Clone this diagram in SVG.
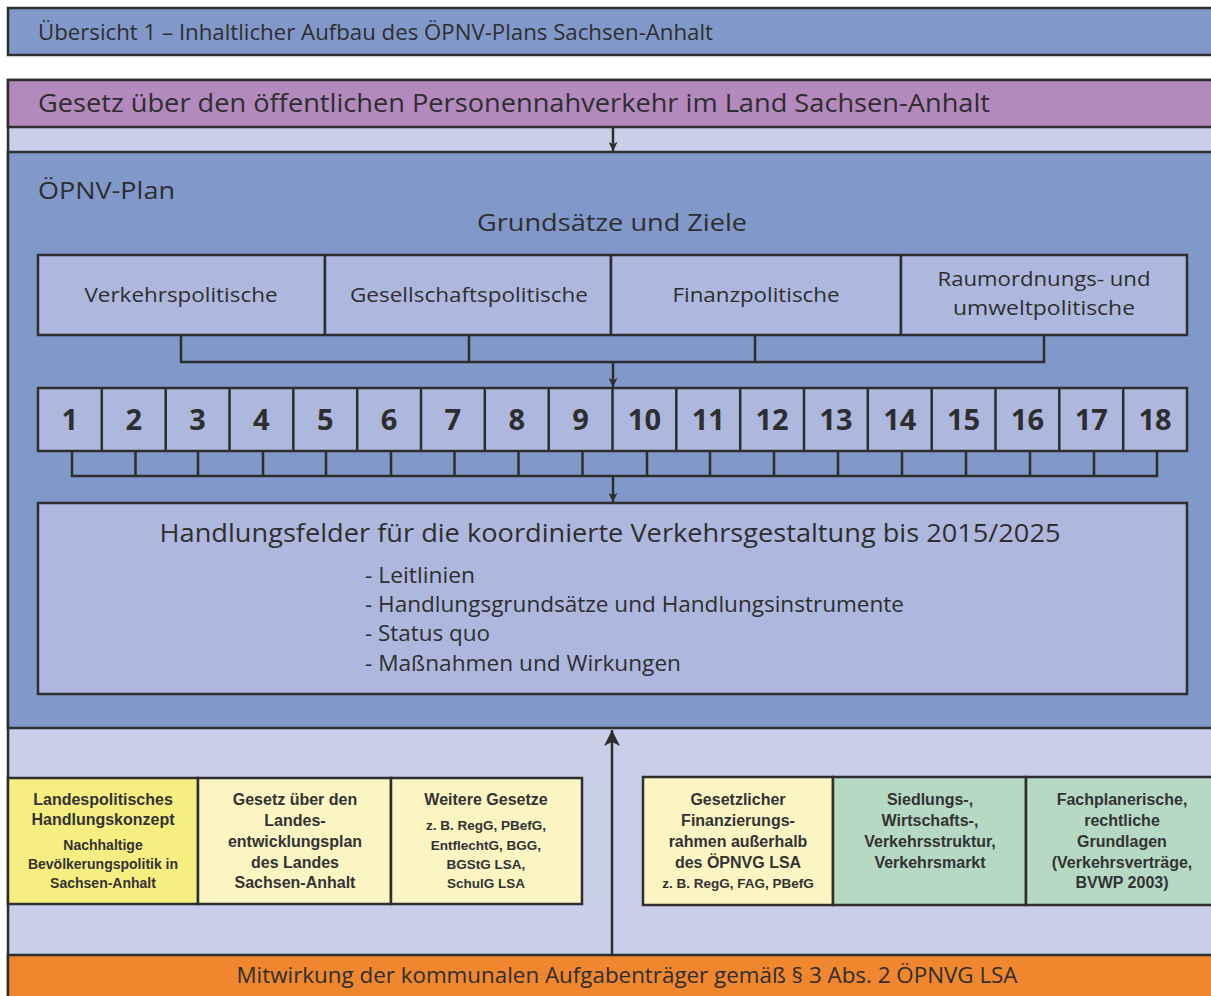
<svg xmlns="http://www.w3.org/2000/svg" width="1211" height="996" viewBox="0 0 1211 996">
<defs>
<style>
.t{font-family:"Open Sans","Noto Sans","Liberation Sans",sans-serif;fill:#2e2e2e}
.b{font-family:"Liberation Sans","Arial",sans-serif;fill:#333333;font-weight:700;text-anchor:middle}
.box{stroke:#2e2e2e;stroke-width:2.5}
.ln{stroke:#2e2e2e;stroke-width:2.5;fill:none}
.blue{fill:#8199ca}
.lb{fill:#aeb8df}
.pale{fill:#c9cee9}
.num{font-size:29px;font-weight:700;text-anchor:middle}
.g{font-size:20px;text-anchor:middle}
.s{font-size:16px}
.xs{font-size:14px}
.xxs{font-size:13.5px}
</style>
<marker id="ah" viewBox="0 0 10 10" refX="10" refY="5" markerWidth="11" markerHeight="9" markerUnits="userSpaceOnUse" orient="auto">
<path d="M0,0 L10,5 L0,10 L2.5,5 Z" fill="#2e2e2e"/>
</marker>
<marker id="ahb" viewBox="0 0 10 10" refX="10" refY="5" markerWidth="26" markerHeight="16" markerUnits="userSpaceOnUse" orient="auto">
<path d="M0,0 L10,5 L0,10 L2.5,5 Z" fill="#2e2e2e"/>
</marker>
</defs>

<g id="header">
<rect x="8" y="8" width="1220" height="47" class="box blue"/>
<text class="t" x="38" y="40" font-size="21" textLength="675" lengthAdjust="spacingAndGlyphs">Übersicht 1 – Inhaltlicher Aufbau des ÖPNV-Plans Sachsen-Anhalt</text>
</g>

<g id="frame">
<rect x="8" y="80" width="1220" height="940" class="box pale"/>
<rect x="8" y="80" width="1220" height="47" class="box" fill="#b389be"/>
<rect x="8" y="152" width="1220" height="576" class="box blue"/>
<rect x="8" y="955" width="1220" height="60" class="box" fill="#f0872e"/>
</g>

<g id="gesetz">
<text class="t" x="38" y="112" font-size="26" textLength="952" lengthAdjust="spacingAndGlyphs">Gesetz über den öffentlichen Personennahverkehr im Land Sachsen-Anhalt</text>
</g>

<g id="oepnv-plan">
<text class="t" x="38" y="199" font-size="24" textLength="137" lengthAdjust="spacingAndGlyphs">ÖPNV-Plan</text>
<text class="t" x="612" y="231" font-size="24" text-anchor="middle" textLength="270" lengthAdjust="spacingAndGlyphs">Grundsätze und Ziele</text>
</g>

<g id="ziele">
<rect x="38" y="255" width="287" height="80" class="box lb"/>
<rect x="325" y="255" width="286" height="80" class="box lb"/>
<rect x="611" y="255" width="290" height="80" class="box lb"/>
<rect x="901" y="255" width="286" height="80" class="box lb"/>
<text class="t g" x="181" y="302" textLength="193" lengthAdjust="spacingAndGlyphs">Verkehrspolitische</text>
<text class="t g" x="469" y="302" textLength="238" lengthAdjust="spacingAndGlyphs">Gesellschaftspolitische</text>
<text class="t g" x="756" y="302" textLength="167" lengthAdjust="spacingAndGlyphs">Finanzpolitische</text>
<text class="t g" x="1044" y="286" textLength="213" lengthAdjust="spacingAndGlyphs">Raumordnungs- und</text>
<text class="t g" x="1044" y="315" textLength="182" lengthAdjust="spacingAndGlyphs">umweltpolitische</text>
</g>

<g id="nummern">
<rect x="38" y="388" width="1149" height="63" class="box lb"/>
<path class="ln" d="M101.8,388V451M165.7,388V451M229.5,388V451M293.3,388V451M357.2,388V451M421,388V451M484.8,388V451M548.7,388V451M612.5,388V451M676.3,388V451M740.2,388V451M804,388V451M867.8,388V451M931.7,388V451M995.5,388V451M1059.3,388V451M1123.2,388V451"/>
<text class="t num" x="69.9" y="430">1</text>
<text class="t num" x="133.8" y="430">2</text>
<text class="t num" x="197.6" y="430">3</text>
<text class="t num" x="261.4" y="430">4</text>
<text class="t num" x="325.3" y="430">5</text>
<text class="t num" x="389.1" y="430">6</text>
<text class="t num" x="452.9" y="430">7</text>
<text class="t num" x="516.8" y="430">8</text>
<text class="t num" x="580.6" y="430">9</text>
<text class="t num" x="644.4" y="430">10</text>
<text class="t num" x="708.3" y="430">11</text>
<text class="t num" x="772.1" y="430">12</text>
<text class="t num" x="835.9" y="430">13</text>
<text class="t num" x="899.8" y="430">14</text>
<text class="t num" x="963.6" y="430">15</text>
<text class="t num" x="1027.4" y="430">16</text>
<text class="t num" x="1091.3" y="430">17</text>
<text class="t num" x="1155.1" y="430">18</text>
</g>

<g id="handlungsfelder">
<rect x="38" y="503" width="1149" height="191" class="box lb"/>
<text class="t" x="610" y="542" font-size="26" text-anchor="middle" textLength="901" lengthAdjust="spacingAndGlyphs">Handlungsfelder für die koordinierte Verkehrsgestaltung bis 2015/2025</text>
<text class="t" x="365" y="583" font-size="21" textLength="110" lengthAdjust="spacingAndGlyphs">- Leitlinien</text>
<text class="t" x="365" y="612" font-size="21" textLength="539" lengthAdjust="spacingAndGlyphs">- Handlungsgrundsätze und Handlungsinstrumente</text>
<text class="t" x="365" y="641" font-size="21" textLength="125" lengthAdjust="spacingAndGlyphs">- Status quo</text>
<text class="t" x="365" y="671" font-size="21" textLength="316" lengthAdjust="spacingAndGlyphs">- Maßnahmen und Wirkungen</text>
</g>

<g id="grundlagen-links">
<rect x="8" y="778" width="190" height="126" class="box" fill="#f7ee82"/>
<rect x="198" y="778" width="193" height="126" class="box" fill="#fbf4c3"/>
<rect x="391" y="778" width="191" height="126" class="box" fill="#fbf4c3"/>
<text class="b s" x="103" y="805">Landespolitisches</text>
<text class="b s" x="103" y="825">Handlungskonzept</text>
<text class="b xs" x="103" y="850">Nachhaltige</text>
<text class="b xs" x="103" y="869">Bevölkerungspolitik in</text>
<text class="b xs" x="103" y="888">Sachsen-Anhalt</text>
<text class="b s" x="295" y="805">Gesetz über den</text>
<text class="b s" x="295" y="826">Landes-</text>
<text class="b s" x="295" y="847">entwicklungsplan</text>
<text class="b s" x="295" y="868">des Landes</text>
<text class="b s" x="295" y="888">Sachsen-Anhalt</text>
<text class="b s" x="486" y="805">Weitere Gesetze</text>
<text class="b xxs" x="486" y="830">z. B. RegG, PBefG,</text>
<text class="b xxs" x="486" y="850">EntflechtG, BGG,</text>
<text class="b xxs" x="486" y="869">BGStG LSA,</text>
<text class="b xxs" x="486" y="888">SchulG LSA</text>
</g>

<g id="grundlagen-rechts">
<rect x="643" y="777" width="190" height="128" class="box" fill="#fbf4c3"/>
<rect x="833" y="777" width="193" height="128" class="box" fill="#b6d9c3"/>
<rect x="1026" y="777" width="200" height="128" class="box" fill="#b6d9c3"/>
<text class="b s" x="738" y="805">Gesetzlicher</text>
<text class="b s" x="738" y="826">Finanzierungs-</text>
<text class="b s" x="738" y="847">rahmen außerhalb</text>
<text class="b s" x="738" y="868">des ÖPNVG LSA</text>
<text class="b xxs" x="738" y="888">z. B. RegG, FAG, PBefG</text>
<text class="b s" x="930" y="805">Siedlungs-,</text>
<text class="b s" x="930" y="826">Wirtschafts-,</text>
<text class="b s" x="930" y="847">Verkehrsstruktur,</text>
<text class="b s" x="930" y="868">Verkehrsmarkt</text>
<text class="b s" x="1122" y="805">Fachplanerische,</text>
<text class="b s" x="1122" y="826">rechtliche</text>
<text class="b s" x="1122" y="847">Grundlagen</text>
<text class="b s" x="1122" y="868">(Verkehrsverträge,</text>
<text class="b s" x="1122" y="888">BVWP 2003)</text>
</g>

<g id="mitwirkung">
<text class="t" x="627" y="983" font-size="22" text-anchor="middle" textLength="781" lengthAdjust="spacingAndGlyphs">Mitwirkung der kommunalen Aufgabenträger gemäß § 3 Abs. 2 ÖPNVG LSA</text>
</g>

<g id="connectors">
<path class="ln" d="M613,128V151" marker-end="url(#ah)"/>
<path class="ln" d="M181,336V362H1044V336M469,336V362M755,336V362"/>
<path class="ln" d="M613,362V387" marker-end="url(#ah)"/>
<path class="ln" d="M72,451V476H1157V451M135.5,451V476M198,451V476M263,451V476M326,451V476M391,451V476M454.5,451V476M518.5,451V476M582.5,451V476M647,451V476M710,451V476M774,451V476M838,451V476M902,451V476M966,451V476M1030,451V476M1094,451V476"/>
<path class="ln" d="M613,476V502" marker-end="url(#ah)"/>
<path class="ln" d="M612,954V730" stroke-width="3" marker-end="url(#ahb)"/>
</g>
</svg>
